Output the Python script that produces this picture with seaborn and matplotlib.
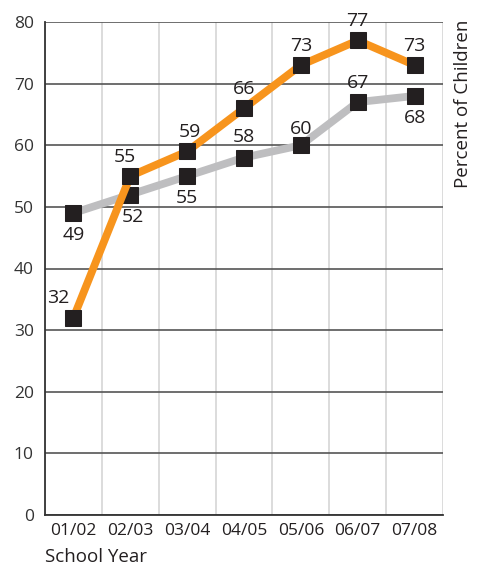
import matplotlib
matplotlib.use("Agg")
import matplotlib.pyplot as plt
import seaborn as sns
import pandas as pd
from matplotlib.ticker import FixedLocator

years = ["01/02", "02/03", "03/04", "04/05", "05/06", "06/07", "07/08"]
orange_vals = [32, 55, 59, 66, 73, 77, 73]
gray_vals = [49, 52, 55, 58, 60, 67, 68]
yticks = [0, 10, 20, 30, 40, 50, 60, 70, 80]

# label placement: (dx, dy) in points
orange_off = [(-11, 14), (-4, 14), (2, 14), (0, 14), (0, 14), (0, 14), (0, 14)]
gray_off = [(0, -16), (2, -16), (0, -16), (0, 15), (0, 12), (0, 14), (0, -16)]

sns.set_style("white")
plt.rcParams['font.family'] = ['Open Sans', 'DejaVu Sans']

df = pd.DataFrame({
    "year": years * 2,
    "value": gray_vals + orange_vals,
    "series": ["gray"] * len(years) + ["orange"] * len(years),
})

fig = plt.figure(figsize=(4.82, 5.65), dpi=100)
ax = fig.add_axes([45 / 482, 1 - 515 / 565, (443 - 45) / 482, (515 - 22) / 565])

for y in yticks:
    ax.axhline(y, color="#555555", lw=1.2, zorder=1)

sns.lineplot(data=df, x="year", y="value", hue="series", sort=False,
             palette={"gray": "#BEBEC0", "orange": "#F7941D"},
             linewidth=5.6, marker="s", markersize=11.5,
             markerfacecolor="#231F20", markeredgecolor="#231F20",
             legend=False, ax=ax, zorder=3)

for i, v in enumerate(orange_vals):
    dx, dy = orange_off[i]
    ax.annotate(str(v), (i, v), xytext=(dx, dy), textcoords="offset points",
                ha="center", va="center", fontsize=14, color="#231F20")
for i, v in enumerate(gray_vals):
    dx, dy = gray_off[i]
    ax.annotate(str(v), (i, v), xytext=(dx, dy), textcoords="offset points",
                ha="center", va="center", fontsize=14, color="#231F20")

ax.set_xlim(-0.5, len(years) - 0.5)
ax.set_ylim(0, 80)
ax.yaxis.set_major_locator(FixedLocator(yticks))
ax.xaxis.set_minor_locator(FixedLocator([i + 0.5 for i in range(-1, len(years))]))
ax.grid(which="minor", axis="x", color="#D9D9D9", lw=1.3)
ax.set_axisbelow(True)
ax.tick_params(axis="both", which="both", length=0, labelsize=12.5, colors="#231F20")
ax.tick_params(axis="x", pad=6)
ax.tick_params(axis="y", pad=8)
for lab in ax.get_yticklabels():
    lab.set_color("#333333")

ax.spines["left"].set_color("#333333")
ax.spines["bottom"].set_color("#333333")
ax.spines["left"].set_linewidth(1.3)
ax.spines["bottom"].set_linewidth(1.3)
ax.spines["top"].set_visible(False)
ax.spines["right"].set_visible(False)

ax.set_xlabel("")
ax.set_ylabel("")
fig.text(45 / 482, 1 - 557 / 565, "School Year", ha="left", va="center",
         fontsize=13.5, color="#231F20")
fig.text(463 / 482, 1 - 20 / 565, "Percent of Children", ha="center", va="top",
         rotation=90, fontsize=13.5, color="#231F20")

fig.savefig("out.png", dpi=100)
